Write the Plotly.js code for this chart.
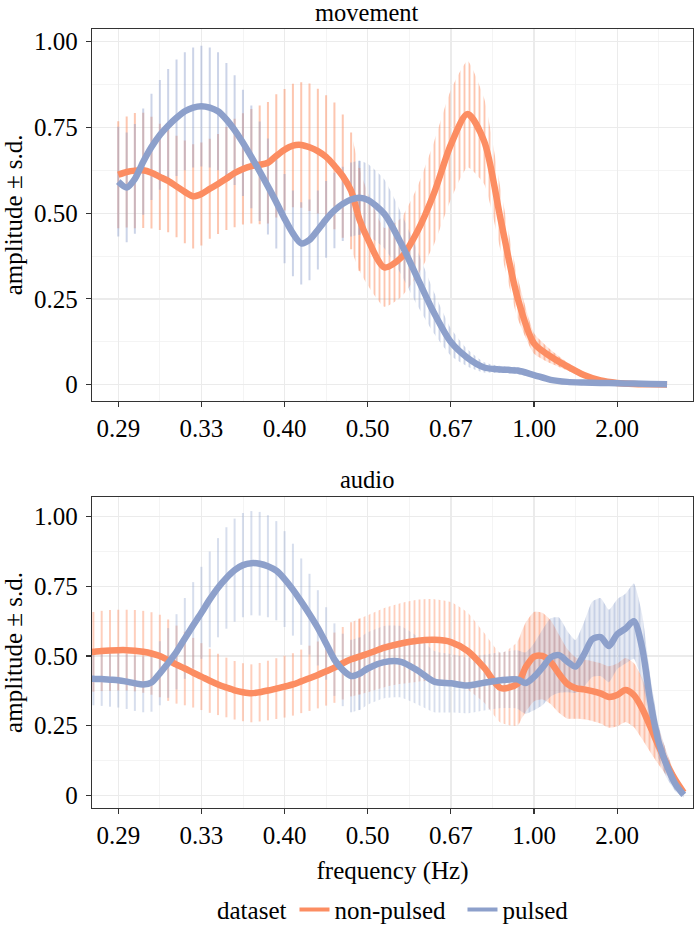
<!DOCTYPE html>
<html>
<head>
<meta charset="utf-8">
<script src="https://cdn.plot.ly/plotly-3.0.1.min.js"></script>
<style>
html,body{margin:0;padding:0;background:#ffffff;}
#chart{width:694px;height:934px;}
svg text{font-family:'Liberation Serif','Times New Roman',serif !important;}
</style>
</head>
<body>
<div id="chart"></div>
<script>
// ---------------- data ----------------
const tickFreqs  = [0.2857, 0.3333, 0.4, 0.5, 0.6667, 1, 2];
const tickLabels = ['0.29', '0.33', '0.40', '0.50', '0.67', '1.00', '2.00'];
const yTickVals  = [0, 0.25, 0.5, 0.75, 1];
const yTickText  = ['0', '0.25', '0.50', '0.75', '1.00'];
const seriesNames = ['non-pulsed', 'pulsed'];

const movementFreq = [0.2857, 0.2899, 0.2941, 0.2985, 0.3030, 0.3077, 0.3125, 0.3175, 0.3226, 0.3279,
  0.3333, 0.3390, 0.3448, 0.3509, 0.3571, 0.3636, 0.3704, 0.3774, 0.3846, 0.3922,
  0.4000, 0.4082, 0.4167, 0.4255, 0.4348, 0.4444, 0.4545, 0.4651, 0.4762, 0.4878,
  0.5000, 0.5263, 0.5556, 0.5882, 0.6250, 0.6667, 0.7143, 0.7692, 0.8333, 0.9091,
  1.0000, 1.1111, 1.2500, 1.4286, 1.6667, 2.0000, 2.5000, 3.3333, 5.0000];
const movementNonPulsed = [0.612, 0.620, 0.624, 0.625, 0.618, 0.606, 0.594, 0.578, 0.562, 0.549,
  0.556, 0.571, 0.585, 0.601, 0.617, 0.629, 0.637, 0.641, 0.647, 0.667,
  0.685, 0.697, 0.699, 0.692, 0.681, 0.664, 0.638, 0.608, 0.565, 0.482,
  0.425, 0.342, 0.370, 0.448, 0.560, 0.700, 0.789, 0.710, 0.480, 0.255,
  0.120, 0.082, 0.053, 0.028, 0.012, 0.005, 0.002, 0.001, 0.000];
const movementNonPulsedSd = [0.156, 0.162, 0.168, 0.168, 0.163, 0.155, 0.150, 0.148, 0.150, 0.152,
  0.150, 0.146, 0.146, 0.150, 0.158, 0.162, 0.167, 0.173, 0.177, 0.180,
  0.177, 0.180, 0.183, 0.186, 0.182, 0.180, 0.185, 0.180, 0.170, 0.150,
  0.135, 0.115, 0.115, 0.130, 0.150, 0.160, 0.155, 0.125, 0.090, 0.060,
  0.030, 0.020, 0.012, 0.008, 0.005, 0.003, 0.002, 0.002, 0.001];
const movementPulsed = [0.592, 0.575, 0.600, 0.650, 0.693, 0.728, 0.755, 0.778, 0.797, 0.808,
  0.812, 0.808, 0.797, 0.773, 0.742, 0.705, 0.664, 0.622, 0.578, 0.532,
  0.484, 0.441, 0.412, 0.422, 0.451, 0.482, 0.508, 0.527, 0.540, 0.545,
  0.539, 0.498, 0.412, 0.310, 0.208, 0.124, 0.078, 0.050, 0.044, 0.041,
  0.028, 0.014, 0.008, 0.006, 0.005, 0.004, 0.003, 0.002, 0.001];
const movementPulsedSd = [0.160, 0.160, 0.160, 0.155, 0.155, 0.160, 0.165, 0.170, 0.172, 0.175,
  0.176, 0.175, 0.172, 0.165, 0.160, 0.155, 0.150, 0.145, 0.140, 0.135,
  0.130, 0.125, 0.120, 0.118, 0.115, 0.112, 0.110, 0.108, 0.108, 0.108,
  0.105, 0.100, 0.090, 0.080, 0.060, 0.040, 0.025, 0.015, 0.010, 0.010,
  0.008, 0.006, 0.005, 0.004, 0.003, 0.003, 0.002, 0.002, 0.002];

const audioFreq = [0.2703, 0.2740, 0.2778, 0.2817, 0.2857, 0.2899, 0.2941, 0.2985, 0.3030, 0.3077,
  0.3125, 0.3175, 0.3226, 0.3279, 0.3333, 0.3390, 0.3448, 0.3509, 0.3571, 0.3636,
  0.3704, 0.3774, 0.3846, 0.3922, 0.4000, 0.4082, 0.4167, 0.4255, 0.4348, 0.4444,
  0.4545, 0.4651, 0.4762, 0.4878, 0.5000, 0.5263, 0.5556, 0.5882, 0.6250, 0.6667,
  0.7143, 0.7692, 0.8333, 0.9091, 0.9524, 1.0000, 1.0526, 1.1111, 1.1765, 1.2500,
  1.3333, 1.4286, 1.5385, 1.6667, 1.8182, 2.0000, 2.2222, 2.5000, 2.8571, 3.3333,
  4.0000, 5.0000, 6.6667, 10.0000];
const audioNonPulsed = [0.512, 0.515, 0.518, 0.520, 0.521, 0.521, 0.519, 0.515, 0.509, 0.500,
  0.485, 0.469, 0.455, 0.440, 0.426, 0.411, 0.398, 0.387, 0.377, 0.370,
  0.366, 0.370, 0.376, 0.383, 0.390, 0.398, 0.409, 0.420, 0.432, 0.445,
  0.458, 0.474, 0.488, 0.498, 0.508, 0.530, 0.545, 0.555, 0.558, 0.550,
  0.518, 0.458, 0.385, 0.400, 0.460, 0.498, 0.500, 0.478, 0.436, 0.400,
  0.385, 0.380, 0.374, 0.366, 0.353, 0.360, 0.378, 0.360, 0.312, 0.245,
  0.175, 0.110, 0.055, 0.010];
const audioNonPulsedSd = [0.143, 0.143, 0.144, 0.145, 0.145, 0.145, 0.146, 0.147, 0.148, 0.148,
  0.146, 0.140, 0.132, 0.125, 0.120, 0.115, 0.110, 0.107, 0.105, 0.104,
  0.104, 0.105, 0.107, 0.109, 0.111, 0.112, 0.114, 0.117, 0.120, 0.123,
  0.126, 0.130, 0.133, 0.136, 0.138, 0.142, 0.145, 0.147, 0.146, 0.144,
  0.138, 0.125, 0.125, 0.150, 0.160, 0.160, 0.155, 0.150, 0.140, 0.125,
  0.110, 0.107, 0.107, 0.108, 0.110, 0.113, 0.115, 0.115, 0.110, 0.090,
  0.065, 0.040, 0.020, 0.008];
const audioPulsed = [0.419, 0.418, 0.417, 0.415, 0.413, 0.408, 0.402, 0.398, 0.405, 0.438,
  0.475, 0.515, 0.563, 0.610, 0.655, 0.703, 0.745, 0.780, 0.808, 0.826,
  0.833, 0.831, 0.822, 0.806, 0.776, 0.738, 0.695, 0.650, 0.601, 0.545,
  0.487, 0.450, 0.428, 0.436, 0.455, 0.478, 0.479, 0.448, 0.408, 0.402,
  0.394, 0.404, 0.413, 0.416, 0.403, 0.425, 0.458, 0.495, 0.503, 0.480,
  0.462, 0.505, 0.560, 0.568, 0.536, 0.578, 0.598, 0.625, 0.530, 0.335,
  0.190, 0.105, 0.040, 0.002];
const audioPulsedSd = [0.095, 0.095, 0.096, 0.097, 0.098, 0.098, 0.099, 0.100, 0.105, 0.115,
  0.125, 0.135, 0.145, 0.155, 0.165, 0.172, 0.178, 0.182, 0.185, 0.187,
  0.187, 0.186, 0.183, 0.178, 0.172, 0.165, 0.155, 0.145, 0.135, 0.130,
  0.130, 0.130, 0.130, 0.130, 0.130, 0.130, 0.128, 0.122, 0.110, 0.105,
  0.100, 0.100, 0.100, 0.105, 0.110, 0.120, 0.135, 0.140, 0.135, 0.110,
  0.095, 0.115, 0.135, 0.140, 0.130, 0.125, 0.125, 0.135, 0.120, 0.090,
  0.060, 0.045, 0.025, 0.010];

// ---------------- styling ----------------
const FONT = 'Liberation Serif, Times New Roman, serif';
const COL_NON = '#FC8D62';
const COL_PUL = '#8DA0CB';
const BAR_UNTIL = 0.49;     // discrete error bars below this frequency (Hz)
const STRIPE_FROM = 0.47;   // closely packed error bars drawn as a striped band
const SOLID_FROM = 0.9;     // error bars merge into a solid band

function rgba(hex, a) {
  const n = parseInt(hex.slice(1), 16);
  return `rgba(${(n >> 16) & 255},${(n >> 8) & 255},${n & 255},${a})`;
}
const period = f => 1 / f;   // axis is linear in 1/frequency

function bandPair(freq, s, from, xa, ya, fillProps) {
  const idx = freq.map((f, i) => i).filter(i => freq[i] >= from);
  const xs = idx.map(i => period(freq[i]));
  const lineSpec = {width: 0, shape: 'spline', smoothing: 0.5, color: 'rgba(0,0,0,0)'};
  return [
    {x: xs, y: idx.map(i => s.amp[i] - s.sd[i]), xaxis: xa, yaxis: ya, mode: 'lines',
     line: lineSpec, showlegend: false, hoverinfo: 'skip'},
    Object.assign({x: xs, y: idx.map(i => s.amp[i] + s.sd[i]), xaxis: xa, yaxis: ya, mode: 'lines',
     fill: 'tonexty', line: lineSpec, showlegend: false, hoverinfo: 'skip'}, fillProps)
  ];
}

function panelTraces(freq, series, xa, ya) {
  let traces = [];
  series.forEach(s => {
    traces = traces.concat(bandPair(freq, s, STRIPE_FROM, xa, ya, {
      fillcolor: 'rgba(0,0,0,0)',
      fillpattern: {shape: '|', size: 5, solidity: 0.38, fillmode: 'replace',
                    fgcolor: rgba(s.color, s.barAlpha), bgcolor: 'rgba(255,255,255,0)'}
    }));
  });
  series.forEach(s => {
    traces = traces.concat(bandPair(freq, s, SOLID_FROM, xa, ya, {fillcolor: rgba(s.color, 0.22)}));
  });
  series.forEach(s => {
    const idx = freq.map((f, i) => i).filter(i => freq[i] < BAR_UNTIL);
    traces.push({
      x: idx.map(i => period(freq[i])), y: idx.map(i => s.amp[i]), xaxis: xa, yaxis: ya,
      mode: 'markers', marker: {size: 1, color: 'rgba(0,0,0,0)'},
      error_y: {type: 'data', array: idx.map(i => s.sd[i]), visible: true,
                color: rgba(s.color, s.barAlpha), thickness: 2, width: 0},
      showlegend: false, hoverinfo: 'skip'
    });
  });
  series.forEach(s => {
    traces.push({
      x: freq.map(period), y: s.amp, xaxis: xa, yaxis: ya,
      mode: 'lines', name: s.name, showlegend: false,
      line: {color: s.color, width: 6.5, shape: 'spline', smoothing: 0.8},
      hoverinfo: 'skip'
    });
  });
  return traces;
}

// legend keys (thinner than the plotted lines, as in the reference)
const legendTraces = seriesNames.map((name, i) => ({
  x: [null], y: [null], mode: 'lines', name: name, showlegend: true,
  line: {color: [COL_NON, COL_PUL][i], width: 4}, hoverinfo: 'skip'
}));

const data = [].concat(
  panelTraces(movementFreq, [
    {name: seriesNames[0], amp: movementNonPulsed, sd: movementNonPulsedSd, color: COL_NON, barAlpha: 0.5},
    {name: seriesNames[1], amp: movementPulsed, sd: movementPulsedSd, color: COL_PUL, barAlpha: 0.45}
  ], 'x', 'y'),
  panelTraces(audioFreq, [
    {name: seriesNames[0], amp: audioNonPulsed, sd: audioNonPulsedSd, color: COL_NON, barAlpha: 0.42},
    {name: seriesNames[1], amp: audioPulsed, sd: audioPulsedSd, color: COL_PUL, barAlpha: 0.35}
  ], 'x2', 'y2'),
  legendTraces
);

const tickPeriods = tickFreqs.map(period);

const axisCommon = {
  showline: true, mirror: true, linecolor: '#333333', linewidth: 1.2,
  ticks: 'outside', ticklen: 5, tickwidth: 1.2, tickcolor: '#333333',
  showgrid: true, gridcolor: '#EBEBEB', gridwidth: 1.3, zeroline: false,
  tickfont: {family: FONT, size: 25, color: '#000000'}
};
const xCommon = Object.assign({}, axisCommon, {
  range: [3.658, 0.044], tickmode: 'array', tickvals: tickPeriods, ticktext: tickLabels,
  minor: {tickmode: 'linear', tick0: 0.25, dtick: 0.5, showgrid: true, gridcolor: '#F1F1F1', gridwidth: 0.8, ticks: ''},
  ticklabelstandoff: 0
});
const yCommon = Object.assign({}, axisCommon, {
  tickmode: 'array', tickvals: yTickVals, ticktext: yTickText,
  minor: {tickmode: 'linear', tick0: 0.125, dtick: 0.25, showgrid: true, gridcolor: '#F1F1F1', gridwidth: 0.8, ticks: ''},
  ticklabelstandoff: 3,
  title: {text: 'amplitude ± s.d.', font: {family: FONT, size: 25, color: '#000000'}, standoff: 8}
});

const layout = {
  width: 694, height: 934,
  margin: {l: 92, r: 1, t: 29, b: 117},
  paper_bgcolor: '#ffffff', plot_bgcolor: '#ffffff',
  font: {family: FONT, size: 25, color: '#000000'},
  showlegend: true,
  xaxis: Object.assign({}, xCommon, {domain: [0, 1], anchor: 'y'}),
  yaxis: Object.assign({}, yCommon, {domain: [0.5228, 1], anchor: 'x', range: [-0.047, 1.037]}),
  xaxis2: Object.assign({}, xCommon, {domain: [0, 1], anchor: 'y2',
    title: {text: 'frequency (Hz)', font: {family: FONT, size: 25, color: '#000000'}, standoff: 13}}),
  yaxis2: Object.assign({}, yCommon, {domain: [0, 0.3994], anchor: 'x2', range: [-0.0455, 1.071]}),
  annotations: [
    {text: 'movement', xref: 'paper', yref: 'paper', x: 0.4576, y: 1, xanchor: 'center', yanchor: 'bottom',
     showarrow: false, yshift: 1, font: {family: FONT, size: 24.5, color: '#000000'}},
    {text: 'audio', xref: 'paper', yref: 'paper', x: 0.4576, y: 0.3994, xanchor: 'center', yanchor: 'bottom',
     showarrow: false, yshift: 2, font: {family: FONT, size: 24.5, color: '#000000'}}
  ],
  legend: {
    orientation: 'h', x: 0.2047, xanchor: 'left', y: -0.1307, yanchor: 'middle',
    title: {text: 'dataset', side: 'left', font: {family: FONT, size: 25, color: '#000000'}},
    font: {family: FONT, size: 25, color: '#000000'},
    itemwidth: 30, entrywidth: 123, entrywidthmode: 'pixels',
    bgcolor: 'rgba(0,0,0,0)', traceorder: 'normal'
  }
};

Plotly.newPlot('chart', data, layout, {displayModeBar: false, staticPlot: true});
</script>
</body>
</html>
